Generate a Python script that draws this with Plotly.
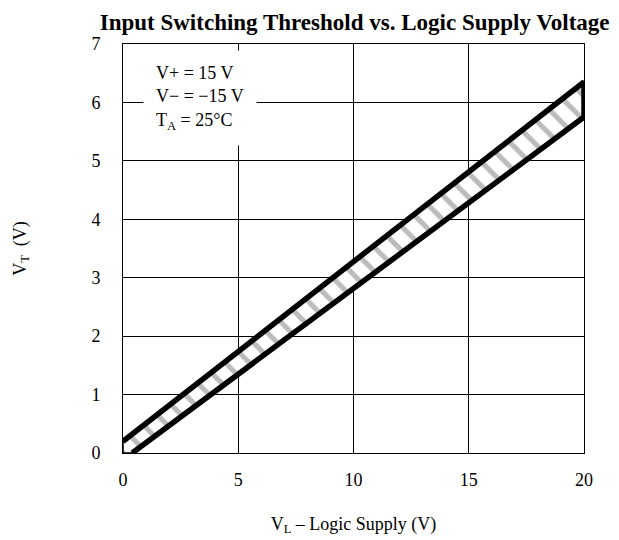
import plotly.graph_objects as go

# Data
vl_upper = [0.0, 20.0]      # Logic supply (V), upper boundary
vt_upper = [0.2, 6.35]      # threshold (V), upper boundary
vl_lower = [0.4, 20.0]      # Logic supply (V), lower boundary
vt_lower = [0.0, 5.75]      # threshold (V), lower boundary
x_ticks = [0, 5, 10, 15, 20]
y_ticks = [0, 1, 2, 3, 4, 5, 6, 7]
conditions = ["V+ = 15 V", "V\u2212 = \u221215 V", "T<sub>A</sub> = 25\u00b0C"]

FONT = "Liberation Serif, Times New Roman, serif"

# closed band polygon
poly_x = vl_upper + vl_lower[::-1] + [vl_upper[0], vl_upper[0]]
poly_y = vt_upper + vt_lower[::-1] + [vt_lower[0], vt_upper[0]]

fig = go.Figure()
fig.add_trace(go.Scatter(
    x=poly_x, y=poly_y, mode="lines", fill="toself",
    fillcolor="white",
    fillpattern=dict(shape="\\", fgcolor="#7a7a7a", bgcolor="white",
                     size=17, solidity=0.3),
    line=dict(color="black", width=1.5),
    hoverinfo="skip", showlegend=False, cliponaxis=False,
))
# thick outline: upper line, right edge, lower line
fig.add_trace(go.Scatter(
    x=vl_upper + vl_lower[::-1], y=vt_upper + vt_lower[::-1],
    mode="lines", line=dict(color="black", width=5.5),
    hoverinfo="skip", showlegend=False, cliponaxis=False,
))

fig.add_annotation(
    x=3.35, y=6.08, xref="x", yref="y",
    text="<br>".join(conditions), showarrow=False, align="left",
    font=dict(family=FONT, size=18, color="black"),
    bgcolor="white", borderpad=12,
)

axis_common = dict(
    showline=True, mirror=True, linecolor="black", linewidth=1,
    showgrid=True, gridcolor="black", gridwidth=1,
    zeroline=False, ticks="", automargin=False,
    tickfont=dict(family=FONT, size=18, color="black"),
)

fig.update_layout(
    width=619, height=540,
    margin=dict(l=115, r=43, t=36, b=95, autoexpand=False),
    paper_bgcolor="white", plot_bgcolor="white",
    title=dict(text="<b>Input Switching Threshold vs. Logic Supply Voltage</b>",
               x=0.56, xanchor="center", y=0.975, yanchor="middle",
               xref="container", yref="container",
               font=dict(family=FONT, size=23, color="black")),
    xaxis=dict(range=[0, 20], tickvals=x_ticks, ticklabelstandoff=10,
               title=dict(text="V<sub>L</sub> \u2013 Logic Supply (V)", standoff=28,
                          font=dict(family=FONT, size=18, color="black")),
               **axis_common),
    yaxis=dict(range=[0, 7], tickvals=y_ticks, ticklabelstandoff=18,
               title=dict(text="V<sub>T</sub>  (V)", standoff=60,
                          font=dict(family=FONT, size=18, color="black")),
               **axis_common),
    showlegend=False,
)

fig.write_html("out.html")
